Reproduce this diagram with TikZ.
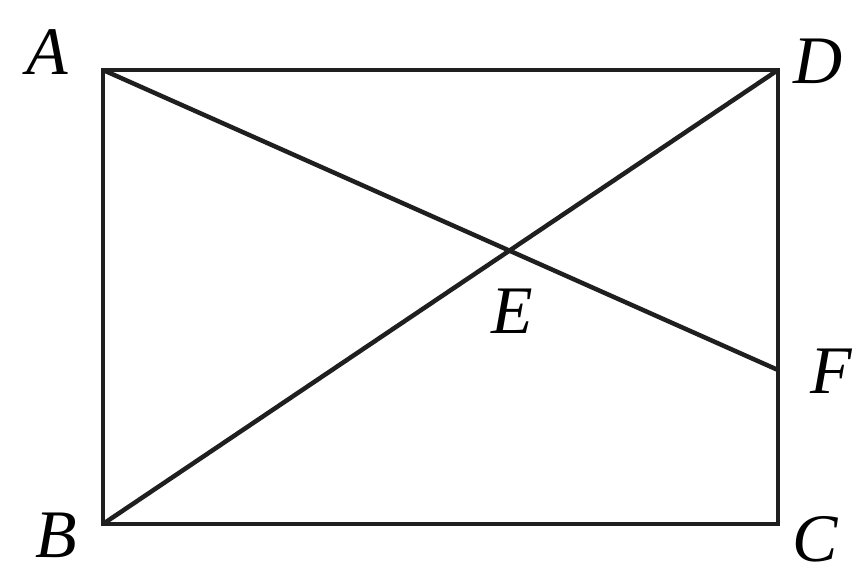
\documentclass[tikz,border=0pt]{standalone}
\usepackage{fontspec}
\setmainfont{Liberation Serif}
\usetikzlibrary{calc,intersections}
\tikzset{
  side line/.style={line width=4.5pt,black!88,line join=miter},
  vertex label/.style={inner sep=0pt,font=\fontsize{68}{76}\selectfont\itshape},
}

\begin{document}
\begin{tikzpicture}[x=1pt,y=1pt]
  \useasboundingbox (0,0) rectangle (860,581);
  % corners of the rectangle
  \coordinate (A) at (103,511);
  \coordinate (D) at (778,511);
  \coordinate (C) at (778,57);
  \coordinate (B) at (103,57);
  \coordinate (F) at (778,211);
  \draw[side line] (A) -- (D) -- (C) -- (B) -- cycle;
  \draw[side line,name path=af] (A) -- (F);
  \draw[side line,name path=bd] (B) -- (D);
  \path[name intersections={of=af and bd,by=E}];
  % labels
  \node[vertex label] (lA) at (47,529) {A};
  \node[vertex label] (lD) at (818,520) {D};
  \node[vertex label] (lB) at (56,46) {B};
  \node[vertex label] (lC) at (815,42) {C};
  \node[vertex label] (lE) at (512,270) {E};
  \node[vertex label] (lF) at (831,210) {F};
\end{tikzpicture}
\end{document}
